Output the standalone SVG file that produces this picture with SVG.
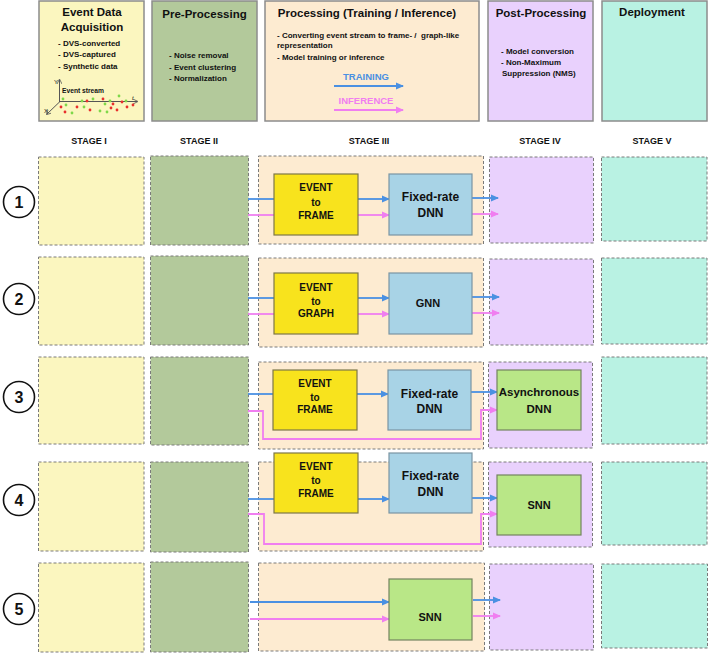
<svg xmlns="http://www.w3.org/2000/svg" width="708" height="654" viewBox="0 0 708 654">
<style>
text{font-family:"Liberation Sans",Arial,sans-serif;font-weight:bold;fill:#111}
.hb{stroke:#8c8c8c;stroke-width:1.5}
.sb{stroke:#7a7a7a;stroke-width:1;stroke-dasharray:3 2}
.s1{fill:#fbf6bf}.s2{fill:#b3c99b}.s3{fill:#fdebd1}.s4{fill:#e9d1fd}.s5{fill:#b9f2e3}
.title{font-size:11.5px;text-anchor:middle}
.bul{font-size:8px;white-space:pre}
.stg{font-size:9px;text-anchor:middle}
.num{font-size:16px;text-anchor:middle}
.circ{fill:#fff;stroke:#111;stroke-width:1.6}
.yel{fill:#f8e31d;stroke:#7d7748;stroke-width:1.2}
.blu{fill:#a8d3e6;stroke:#7b95a3;stroke-width:1.2}
.grn{fill:#b9e787;stroke:#73845f;stroke-width:1.2}
.nt{font-size:10px;text-anchor:middle}
.nt2{font-size:12px;text-anchor:middle}
.tr{fill:none;stroke:#4a90e2;stroke-width:1.8}
.inf{fill:none;stroke:#f07ef0;stroke-width:1.8}
.ax{stroke:#555;stroke-width:1;fill:none}
.gd{fill:#7fd84a}.rd{fill:#e8302c}
</style>
<defs>
<marker id="ab" markerWidth="8" markerHeight="8" refX="7" refY="4" orient="auto" markerUnits="userSpaceOnUse"><path d="M0,0.5 L8,4 L0,7.5 Z" fill="#4a90e2"/></marker>
<marker id="ap" markerWidth="8" markerHeight="8" refX="7" refY="4" orient="auto" markerUnits="userSpaceOnUse"><path d="M0,0.5 L8,4 L0,7.5 Z" fill="#f07ef0"/></marker>
<marker id="ax" markerWidth="5" markerHeight="5" refX="4" refY="2.5" orient="auto" markerUnits="userSpaceOnUse"><path d="M0,0 L5,2.5 L0,5" fill="none" stroke="#555" stroke-width="0.8"/></marker>
</defs>

<!-- Header -->
<g id="hdr-acq">
<rect class="hb s1" x="39" y="1" width="105" height="120"/>
<text class="title" x="92" y="16">Event Data</text>
<text class="title" x="92" y="31">Acquisition</text>
<text class="bul" x="58" y="46">- DVS-converted</text>
<text class="bul" x="58" y="57">- DVS-captured</text>
<text class="bul" x="58" y="68.5">- Synthetic data</text>
<line class="ax" x1="59.5" y1="102" x2="59.5" y2="80" marker-end="url(#ax)"/>
<line class="ax" x1="59.5" y1="101.5" x2="137" y2="101.5" marker-end="url(#ax)"/>
<line class="ax" x1="60" y1="101.5" x2="47" y2="114" marker-end="url(#ax)"/>
<text x="54" y="84" style="font-size:6px;font-weight:normal">Y</text>
<text x="132" y="100" style="font-size:6px;font-weight:normal;font-style:italic">t</text>
<text x="44" y="113" style="font-size:6px;font-weight:normal">X</text>
<text x="62" y="93" style="font-size:6.7px">Event stream</text>
<g>
<circle class="gd" cx="63" cy="99" r="1.4"/><circle class="gd" cx="82" cy="101" r="1.4"/><circle class="gd" cx="93" cy="99" r="1.4"/><circle class="gd" cx="110" cy="101" r="1.4"/><circle class="gd" cx="119" cy="96" r="1.4"/><circle class="gd" cx="126" cy="101" r="1.4"/><circle class="gd" cx="66" cy="105" r="1.4"/><circle class="gd" cx="84" cy="107" r="1.4"/><circle class="gd" cx="72" cy="113" r="1.4"/><circle class="gd" cx="100" cy="111" r="1.4"/><circle class="gd" cx="107" cy="112" r="1.4"/><circle class="gd" cx="105" cy="104" r="1.4"/>
<circle class="rd" cx="61" cy="107" r="1.4"/><circle class="rd" cx="77" cy="107" r="1.4"/><circle class="rd" cx="87" cy="101" r="1.4"/><circle class="rd" cx="103" cy="99" r="1.4"/><circle class="rd" cx="113" cy="104" r="1.4"/><circle class="rd" cx="122" cy="102" r="1.4"/><circle class="rd" cx="65" cy="112" r="1.4"/><circle class="rd" cx="90" cy="110" r="1.4"/><circle class="rd" cx="111" cy="108" r="1.4"/><circle class="rd" cx="117" cy="110" r="1.4"/><circle class="rd" cx="127" cy="107" r="1.4"/><circle class="rd" cx="133" cy="105" r="1.4"/>
</g>
</g>
<g id="hdr-pre">
<rect class="hb s2" x="152" y="1" width="105" height="120"/>
<text class="title" x="204.5" y="18">Pre-Processing</text>
<text class="bul" x="169" y="58">- Noise removal</text>
<text class="bul" x="169" y="69.5">- Event clustering</text>
<text class="bul" x="169" y="80.5">- Normalization</text>
</g>
<g id="hdr-proc">
<rect class="hb s3" x="265" y="1" width="214" height="120"/>
<text class="title" x="367" y="17">Processing (Training / Inference)</text>
<text class="bul" x="277" y="38" xml:space="preserve">- Converting event stream to frame- /  graph-like</text>
<text class="bul" x="277" y="48">representation</text>
<text class="bul" x="277" y="59.5">- Model training or inference</text>
<text x="366" y="80" style="font-size:9.5px;text-anchor:middle;fill:#4a90e2">TRAINING</text>
<line class="tr" x1="334" y1="86" x2="403" y2="86" marker-end="url(#ab)"/>
<text x="366" y="104" style="font-size:9.5px;text-anchor:middle;fill:#f07ef0">INFERENCE</text>
<line class="inf" x1="334" y1="110" x2="403" y2="110" marker-end="url(#ap)"/>
</g>
<g id="hdr-post">
<rect class="hb s4" x="488" y="1" width="105" height="120"/>
<text class="title" x="541" y="17">Post-Processing</text>
<text class="bul" x="501" y="54">- Model conversion</text>
<text class="bul" x="501" y="65">- Non-Maximum</text>
<text class="bul" x="502" y="76">Suppression (NMS)</text>
</g>
<g id="hdr-dep">
<rect class="hb s5" x="602" y="1" width="105" height="120"/>
<text class="title" x="652" y="16">Deployment</text>
</g>

<!-- Stage labels -->
<g id="stage-labels">
<text class="stg" x="89" y="144">STAGE I</text>
<text class="stg" x="199" y="144">STAGE II</text>
<text class="stg" x="369" y="144">STAGE III</text>
<text class="stg" x="540" y="144">STAGE IV</text>
<text class="stg" x="652" y="144">STAGE V</text>
</g>

<!-- Stage boxes -->
<g id="row1">
<circle class="circ" cx="19" cy="202" r="15.5"/><text class="num" x="19" y="208">1</text>
<rect class="sb s1" x="38.5" y="157" width="105.5" height="88"/>
<rect class="sb s2" x="150.5" y="156" width="98" height="89"/>
<rect class="sb s3" x="258.5" y="156" width="225" height="88"/>
<rect class="sb s4" x="489.5" y="157" width="104" height="86"/>
<rect class="sb s5" x="601.5" y="157" width="105.5" height="84"/>
</g>
<g id="row2">
<circle class="circ" cx="19" cy="299" r="15.5"/><text class="num" x="19" y="305">2</text>
<rect class="sb s1" x="38.5" y="257" width="105.5" height="88"/>
<rect class="sb s2" x="150.5" y="256" width="98" height="89"/>
<rect class="sb s3" x="258.5" y="258" width="225" height="89"/>
<rect class="sb s4" x="489.5" y="259" width="104" height="86"/>
<rect class="sb s5" x="601.5" y="258" width="105.5" height="86"/>
</g>
<g id="row3">
<circle class="circ" cx="19" cy="397" r="15.5"/><text class="num" x="19" y="403">3</text>
<rect class="sb s1" x="38.5" y="357" width="105.5" height="87"/>
<rect class="sb s2" x="150.5" y="357" width="98" height="88"/>
<rect class="sb s3" x="258.5" y="362" width="225" height="87"/>
<rect class="sb s4" x="488.5" y="362" width="104" height="86"/>
<rect class="sb s5" x="601.5" y="357" width="105.5" height="87"/>
</g>
<g id="row4">
<circle class="circ" cx="19" cy="500" r="15.5"/><text class="num" x="19" y="506">4</text>
<rect class="sb s1" x="38.5" y="462" width="105.5" height="89"/>
<rect class="sb s2" x="150.5" y="462" width="98" height="90"/>
<rect class="sb s3" x="258.5" y="462" width="225" height="89"/>
<rect class="sb s4" x="488.5" y="462" width="104" height="85"/>
<rect class="sb s5" x="601.5" y="462" width="105.5" height="83"/>
</g>
<g id="row5">
<circle class="circ" cx="19" cy="609" r="15.5"/><text class="num" x="19" y="615">5</text>
<rect class="sb s1" x="38.5" y="563" width="105.5" height="89"/>
<rect class="sb s2" x="150.5" y="562" width="98" height="90"/>
<rect class="sb s3" x="258.5" y="563" width="226" height="88"/>
<rect class="sb s4" x="489.5" y="564" width="104" height="86"/>
<rect class="sb s5" x="601.5" y="564" width="106" height="84"/>
</g>

<!-- Connectors -->
<g id="connectors">
<line class="tr" x1="248" y1="199" x2="274" y2="199"/>
<line class="inf" x1="248" y1="215" x2="274" y2="215"/>
<line class="tr" x1="358" y1="199" x2="389" y2="199" marker-end="url(#ab)"/>
<line class="inf" x1="358" y1="215" x2="389" y2="215" marker-end="url(#ap)"/>
<line class="tr" x1="472" y1="198" x2="498" y2="198" marker-end="url(#ab)"/>
<line class="inf" x1="472" y1="214" x2="498" y2="214" marker-end="url(#ap)"/>
<line class="tr" x1="248" y1="298" x2="274" y2="298"/>
<line class="inf" x1="248" y1="314" x2="274" y2="314"/>
<line class="tr" x1="358" y1="298" x2="389" y2="298" marker-end="url(#ab)"/>
<line class="inf" x1="358" y1="314" x2="389" y2="314" marker-end="url(#ap)"/>
<line class="tr" x1="472" y1="297" x2="499" y2="297" marker-end="url(#ab)"/>
<line class="inf" x1="472" y1="313" x2="499" y2="313" marker-end="url(#ap)"/>
<line class="tr" x1="248" y1="394" x2="273" y2="394"/>
<line class="tr" x1="357" y1="394" x2="388" y2="394" marker-end="url(#ab)"/>
<line class="tr" x1="471" y1="392" x2="497" y2="392" marker-end="url(#ab)"/>
<path class="inf" d="M248,411 H263 V439 H481 V410 H497" marker-end="url(#ap)"/>
<line class="tr" x1="248" y1="499" x2="274" y2="499"/>
<line class="tr" x1="358" y1="499" x2="389" y2="499" marker-end="url(#ab)"/>
<line class="tr" x1="472" y1="498" x2="497" y2="498" marker-end="url(#ab)"/>
<path class="inf" d="M248,514 H264 V544 H481 V514 H497" marker-end="url(#ap)"/>
<line class="tr" x1="250" y1="602" x2="389" y2="602" marker-end="url(#ab)"/>
<line class="inf" x1="250" y1="619" x2="389" y2="619" marker-end="url(#ap)"/>
<line class="tr" x1="473" y1="600" x2="500" y2="600" marker-end="url(#ab)"/>
<line class="inf" x1="473" y1="616" x2="500" y2="616" marker-end="url(#ap)"/>
</g>

<!-- Nodes -->
<g id="r1-e2f"><rect class="yel" x="274" y="174" width="84" height="61"/>
<text class="nt" x="316" y="190.5">EVENT</text><text class="nt" x="316" y="205.5">to</text><text class="nt" x="316" y="219">FRAME</text></g>
<g id="r1-dnn"><rect class="blu" x="389" y="174" width="83" height="61"/>
<text class="nt2" x="430.5" y="201">Fixed-rate</text><text class="nt2" x="430.5" y="216.5">DNN</text></g>

<g id="r2-e2g"><rect class="yel" x="274" y="273" width="84" height="61"/>
<text class="nt" x="316" y="290.5">EVENT</text><text class="nt" x="316" y="304.5">to</text><text class="nt" x="316" y="317">GRAPH</text></g>
<g id="r2-gnn"><rect class="blu" x="389" y="273" width="83" height="61"/>
<text class="nt2" x="428" y="307" style="font-size:11px">GNN</text></g>

<g id="r3-e2f"><rect class="yel" x="273" y="370" width="84" height="60"/>
<text class="nt" x="315" y="386.5">EVENT</text><text class="nt" x="315" y="400.5">to</text><text class="nt" x="315" y="413">FRAME</text></g>
<g id="r3-dnn"><rect class="blu" x="388" y="370" width="83" height="60"/>
<text class="nt2" x="429.5" y="397.5">Fixed-rate</text><text class="nt2" x="429.5" y="412.5">DNN</text></g>
<g id="r3-adnn"><rect class="grn" x="497" y="370" width="84" height="60"/>
<text class="nt2" x="539" y="396" style="font-size:11.5px">Asynchronous</text><text class="nt2" x="539" y="413" style="font-size:11.5px">DNN</text></g>

<g id="r4-e2f"><rect class="yel" x="274" y="453" width="84" height="60"/>
<text class="nt" x="316" y="469.5">EVENT</text><text class="nt" x="316" y="483.5">to</text><text class="nt" x="316" y="496.5">FRAME</text></g>
<g id="r4-dnn"><rect class="blu" x="389" y="453" width="83" height="60"/>
<text class="nt2" x="430.5" y="480">Fixed-rate</text><text class="nt2" x="430.5" y="496">DNN</text></g>
<g id="r4-snn"><rect class="grn" x="497" y="475" width="84" height="60"/>
<text class="nt2" x="539" y="509" style="font-size:11px">SNN</text></g>

<g id="r5-snn"><rect class="grn" x="389" y="579" width="83" height="61"/>
<text class="nt2" x="430" y="621" style="font-size:11px">SNN</text></g>
</svg>
